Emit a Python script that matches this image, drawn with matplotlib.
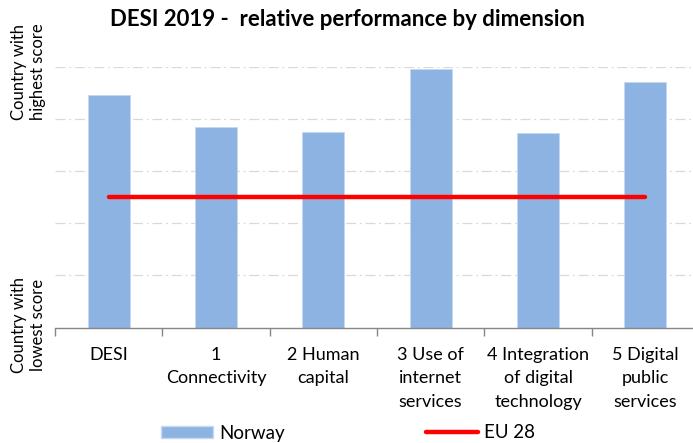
import matplotlib
matplotlib.use("Agg")
import matplotlib.pyplot as plt
from matplotlib.lines import Line2D
from matplotlib.patches import Patch

categories = ["DESI", "1\nConnectivity", "2 Human\ncapital", "3 Use of\ninternet\nservices",
              "4 Integration\nof digital\ntechnology", "5 Digital\npublic\nservices"]
norway = [0.892, 0.770, 0.750, 0.992, 0.747, 0.942]
eu28 = [0.5, 0.5, 0.5, 0.5, 0.5, 0.5]
title = "DESI 2019 -  relative performance by dimension"

plt.rcParams['font.family'] = ['Lato', 'DejaVu Sans']

fig = plt.figure(figsize=(6.93, 4.43), dpi=100)
ax = fig.add_axes([55/693, 1-327.5/443, 644/693, 260.5/443])

x = list(range(len(categories)))
ax.bar(x, norway, width=0.39, color="#8DB3E2", edgecolor="#C6D9F1", linewidth=0.6, zorder=2)
ax.plot(x, eu28, color="#FF0000", linewidth=3.2, solid_capstyle="round", zorder=3)

ax.set_xlim(-0.5, len(categories) - 0.5)
ax.set_ylim(0, 1)
ax.set_yticks([0.2, 0.4, 0.6, 0.8, 1.0])
ax.yaxis.grid(True, color="#D9D9D9", linestyle=(0, (8, 3, 1.5, 3)), linewidth=0.9, zorder=0)
ax.tick_params(axis='y', left=False, labelleft=False)
ax.set_xticks([i - 0.5 for i in range(len(categories) + 1)], minor=False)
ax.set_xticklabels([])
ax.set_xticks(x, minor=True)
ax.set_xticklabels(categories, minor=True, fontsize=13, linespacing=1.58, va='top')
ax.tick_params(axis='x', which='major', length=6, color="#868686", width=1)
ax.tick_params(axis='x', which='minor', length=0, pad=14)
for s in ['top', 'right', 'left']:
    ax.spines[s].set_visible(False)
ax.spines['bottom'].set_color("#868686")
ax.spines['bottom'].set_linewidth(1)

fig.text(347/693, 1-19/443, title, ha='center', va='center', fontsize=16, fontweight='bold')
fig.text(28.5/693, 1-72/443, "Country with\nhighest score", rotation=90, ha='center', va='center',
         fontsize=12, linespacing=1.25)
fig.text(28.5/693, 1-325/443, "Country with\nlowest score", rotation=90, ha='center', va='center',
         fontsize=12, linespacing=1.25)

handles = [Patch(facecolor="#8DB3E2", edgecolor="#C6D9F1"),
           Line2D([0], [0], color="#FF0000", linewidth=3.2, solid_capstyle="round")]
fig.legend(handles, ["Norway", "EU 28"], loc='center', bbox_to_anchor=(348/693, 1-433/443),
           ncol=2, frameon=False, fontsize=13.5, handlelength=2.8, handleheight=0.55,
           columnspacing=7.5, handletextpad=0.33)

fig.savefig("out.png", dpi=100)
